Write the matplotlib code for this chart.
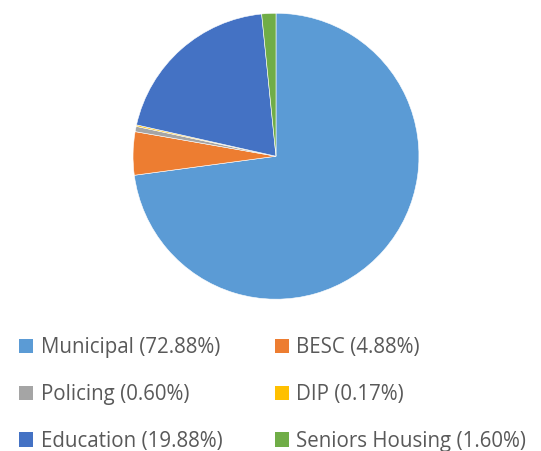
import matplotlib.pyplot as plt
from matplotlib.patches import Patch

labels = ["Municipal", "BESC", "Policing", "DIP", "Education", "Seniors Housing"]
shares = [72.88, 4.88, 0.60, 0.17, 19.88, 1.60]
colors = ["#5B9BD5", "#ED7D31", "#A5A5A5", "#FFC000", "#4472C4", "#70AD47"]

plt.rcParams['font.family'] = ['Open Sans', 'DejaVu Sans']

fig = plt.figure(figsize=(5.41, 4.51), dpi=100)
ax = fig.add_axes([0.2458, 0.3366, 0.5287, 0.634])
ax.pie(shares, colors=colors, startangle=90, counterclock=False,
       wedgeprops=dict(linewidth=0.4, edgecolor="white"))
ax.set_xlim(-1, 1)
ax.set_ylim(-1, 1)
ax.set_aspect("equal")

# legend order: row-wise pairs
order = [0, 2, 4, 1, 3, 5]
handles = [Patch(facecolor=colors[i], edgecolor="none") for i in order]
texts = [f"{labels[i]} ({shares[i]:.2f}%)" for i in order]
fig.legend(handles, texts, ncol=2, frameon=False, loc="upper left",
           bbox_to_anchor=(0.02, 0.27), fontsize=14.8, labelcolor="#595959",
           handlelength=0.7, handleheight=0.7, handletextpad=0.35,
           columnspacing=2.55, labelspacing=1.25, borderaxespad=0)

fig.savefig("out.png", dpi=100)
